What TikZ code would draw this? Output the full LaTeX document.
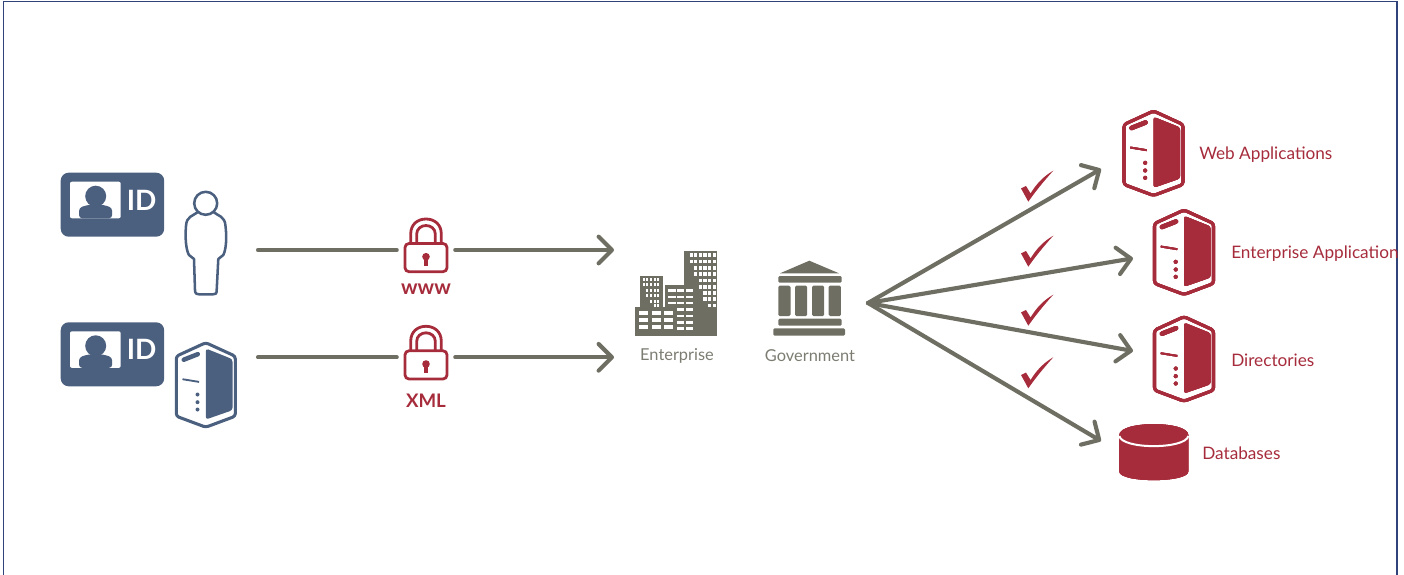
\documentclass[tikz,border=0pt]{standalone}
\usepackage{fontspec}
\setmainfont{Lato}
\usetikzlibrary{arrows.meta}
\definecolor{frame}{HTML}{2F4279}
\definecolor{slate}{HTML}{4B607F}
\definecolor{wine}{HTML}{A62C3C}
\definecolor{stone}{HTML}{6E6E63}
\definecolor{stonetxt}{HTML}{7C7C72}
\tikzset{
  flow/.style={draw=stone, line width=3.1pt, line cap=round},
  flowTip/.style={flow, -{Straight Barb[length=10pt,width=20pt,round]}},
  lockSlot/.style={inner sep=0pt, minimum width=43.5pt, minimum height=40pt},
  wineLbl/.style={text=wine, anchor=west, inner sep=0pt, font=\fontsize{12.9}{16}\selectfont},
  stoneLbl/.style={text=stonetxt, inner sep=0pt, font=\fontsize{12.3}{15}\selectfont},
  lockLbl/.style={text=wine, inner sep=0pt, font=\bfseries\fontsize{14}{16}\selectfont},
  idLbl/.style={text=white, inner sep=0pt, font=\bfseries\fontsize{21}{24}\selectfont},
}
\newcommand{\IdCard}[3]{%
  \begin{scope}[shift={(#1,#2)}]
    \fill[slate, rounded corners=6pt] (0,0) rectangle (103.5,64);
    \fill[white, rounded corners=1.5pt] (9.3,9) rectangle (60,45.6);
    \fill[slate] (35,23.5) circle (10.5);
    \fill[slate, rounded corners=2.5pt] (18.3,45.6) -- (18.3,35) -- (28,32) -- (42,32) -- (51.5,35) -- (51.5,45.6) -- cycle;
    \node[idLbl] (#3) at (81,27.5) {ID};
  \end{scope}
}
\newcommand{\ServerIcon}[3]{%
  \begin{scope}[shift={(#1,#2)}]
    \draw[#3, line width=2.3pt, line join=round, rounded corners=2pt]
      (0,1.5) -- (29.5,15) -- (29.5,75) -- (0,86) -- (-29.5,75) -- (-29.5,15) -- cycle;
    \fill[#3, rounded corners=2pt] (0,7.3) -- (26.7,18) -- (26.7,69) -- (0,78.3) -- cycle;
    \draw[#3, line width=3.4pt, line cap=round] (-22,18.5) -- (-8,13);
    \draw[#3, line width=1.4pt] (-23.3,38) -- (-6.7,40.7);
    \foreach \dotY in {53.3,61,68.3} \fill[#3] (-8.3,\dotY) circle (2);
  \end{scope}
}
\newcommand{\LockIcon}[2]{%
  \begin{scope}[shift={(#1,#2)}]
    \draw[wine, line width=2.1pt, rounded corners=3pt] (-21,-6.5) rectangle (21,21.7);
    \draw[wine, line width=2.1pt] (-15.3,-7) -- (-15.3,-16) .. controls (-15.3,-26) and (-8,-31) .. (0,-31)
      .. controls (8,-31) and (15.3,-26) .. (15.3,-16) -- (15.3,-7);
    \draw[wine, line width=2.1pt] (-9.3,-7) -- (-9.3,-16) .. controls (-9.3,-21) and (-5,-24.5) .. (0,-24.5)
      .. controls (5,-24.5) and (9.3,-21) .. (9.3,-16) -- (9.3,-7);
    \fill[wine] (0,6.7) circle (3.8);
    \fill[wine] (-2.2,7) rectangle (2.2,15.7);
  \end{scope}
}
\newcommand{\CheckMark}[2]{%
  \fill[wine, shift={(#1,#2)}] (0,0) -- (-7.3,-13.3) -- (-2.3,-15.7) -- (2.3,-8.3)
    .. controls (8,-18) and (16,-26) .. (25,-31) .. controls (15,-20) and (7,-10) .. cycle;
}
\begin{document}
\begin{tikzpicture}[x=0.75pt, y=-0.75pt]
  \useasboundingbox (0,0) rectangle (1404,575);
  \draw[frame, line width=1.1pt] (3.5,575) -- (3.5,1.5) -- (1397,1.5) -- (1397,575);

  \coordinate (startA) at (258,250);
  \coordinate (startB) at (258,357.3);
  \coordinate (endA) at (614,250);
  \coordinate (endB) at (614,357.3);
  \coordinate (hub) at (868,303);
  \coordinate (tipWeb) at (1101,169);
  \coordinate (tipEnt) at (1133,258.3);
  \coordinate (tipDir) at (1133,351);
  \coordinate (tipDb) at (1101,441);

  % left side
  \IdCard{60.7}{172.7}{idA}
  \IdCard{60.7}{322.3}{idB}
  \draw[slate, line width=1.9pt] (205.7,203.3) circle (11.5);
  \draw[slate, line width=1.9pt, line join=round] (198,212) .. controls (193,216) and (186.5,216) .. (186,226)
    .. controls (185,238) and (186,250) .. (189,255) -- (194,259) -- (195,290)
    .. controls (195,294) and (197,294.3) .. (199,294.3) -- (213,294.3)
    .. controls (215.5,294.3) and (216.7,294) .. (216.7,290) -- (218.3,259) -- (223.3,255)
    .. controls (226,250) and (227,238) .. (225.5,226) .. controls (225,216) and (218,216) .. (213.5,212);
  \ServerIcon{205.8}{341.2}{slate}

  % locks and arrows
  \node[lockSlot] (lockA) at (426,250) {};
  \node[lockSlot] (lockB) at (426,357.3) {};
  \LockIcon{426}{250}
  \LockIcon{426}{357.3}
  \node[lockLbl, font=\bfseries\fontsize{15.5}{16}\selectfont] (www) at (426,289) {www};
  \node[lockLbl] (xml) at (426,401) {XML};
  \draw[flow] (startA) -- (lockA);
  \draw[flow] (startB) -- (lockB);
  \draw[flowTip] (lockA) -- (endA);
  \draw[flowTip] (lockB) -- (endB);

  % enterprise
  \fill[stone] (684.3,250.7) rectangle (717.3,335.7);
  \fill[stone] (665,285) rectangle (684.3,335.7);
  \fill[stone] (640.3,275.7) rectangle (662.7,306.7);
  \fill[stone] (635,306.7) rectangle (665,335.7);
  \foreach \rowY/\colA in {253/0,259.5/0,266/1,272.3/1,278.5/2,285/2,291/3,297/3,303.5/4}
    \foreach \colN in {\colA,...,5}
      \fill[white] ({689.5+\colN*4.6},\rowY) rectangle +(3.2,3.7);
  \foreach \rowY/\colA in {277.5/0,283/0,288.5/1,294/1,299.5/2,304/3}
    \foreach \colN in {\colA,...,4}
      \fill[white] ({642.8+\colN*3.6},\rowY) rectangle +(2,3.2);
  \foreach \rowY in {289,295.5,301.5}
    \foreach \colX in {668.3,676.7}
      \fill[white] (\colX,\rowY) rectangle +(7.3,2.6);
  \foreach \rowY in {289,295.5,301.5,308,314.5,321,327}
    \fill[white] (685.7,\rowY) rectangle +(7.3,2.6);
  \foreach \rowY in {308,314.5,321,327}
    \fill[white] (676.7,\rowY) rectangle +(7.3,2.6);
  \foreach \rowY in {311,318,325}
    \foreach \colX in {639.3,651.7,664}
      \fill[white] (\colX,\rowY) rectangle +(9,3.7);
  \node[stoneLbl] (enterprise) at (677,355.5) {Enterprise};

  % government
  \fill[stone] (780,273.3) -- (809.3,260.7) -- (839,273.3) -- cycle;
  \fill[stone, rounded corners=1pt] (778.3,276) rectangle (841.7,282.7);
  \foreach \colX in {778.3,795,812,828.7}
    \fill[stone, rounded corners=1pt] (\colX,285.7) rectangle +(12.2,30.3);
  \fill[stone, rounded corners=1pt] (778.3,318.7) rectangle (841.7,325.7);
  \fill[stone, rounded corners=1pt] (773.3,328.3) rectangle (845,335.7);
  \node[stoneLbl] (government) at (810,355.5) {Government};

  % right side
  \foreach \tgt in {tipWeb,tipEnt,tipDir,tipDb}
    \draw[flowTip] (hub) -- (\tgt);
  \foreach \markY in {201.7,266.7,325.7,388.3}
    \CheckMark{1028.3}{\markY}
  \ServerIcon{1153.5}{109.5}{wine}
  \ServerIcon{1184}{208.5}{wine}
  \ServerIcon{1184}{315.2}{wine}
  \fill[wine] (1119.3,435) .. controls (1119.3,420.5) and (1188.3,420.5) .. (1188.3,435) -- (1188.3,471.5)
    .. controls (1188.3,483) and (1119.3,483) .. (1119.3,471.5) -- cycle;
  \draw[white, line width=1.5pt] (1119.3,436) .. controls (1122,449.5) and (1185.5,449.5) .. (1188.3,436);
  \node[wineLbl] (webApp) at (1199,154.5) {Web Applications};
  \node[wineLbl] (entApp) at (1231,253.5) {Enterprise Application};
  \node[wineLbl] (dirs) at (1231,360.5) {Directories};
  \node[wineLbl] (dbs) at (1202,453.5) {Databases};
\end{tikzpicture}
\end{document}
